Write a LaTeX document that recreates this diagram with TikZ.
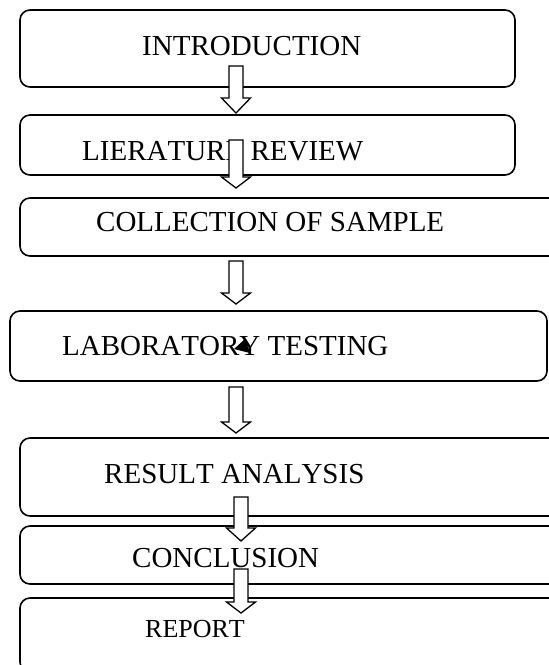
\documentclass[tikz,border=0pt]{standalone}
\usepackage{fontspec}
\setmainfont{Liberation Serif}[Kerning=Off]
\newcommand\blockarr[4]{%
  \draw[barrow] (#1-7,-#2) -- (#1+7,-#2) -- (#1+7,-#3) -- (#1+14.5,-#3)
    -- (#1,-#4) -- (#1-14.5,-#3) -- (#1-7,-#3) -- cycle;}
\begin{document}
\begin{tikzpicture}[x=1pt,y=1pt,
  stage/.style={draw, line width=1.6pt, rounded corners=10pt, inner sep=0pt},
  lbl/.style={anchor=base west, inner sep=0pt, font=\fontsize{29}{29}\selectfont},
  barrow/.style={draw, fill=white, line width=1.3pt, line join=miter}]
\useasboundingbox (0,0) rectangle (549,-665);
\clip (0,0) rectangle (549,-665);
% stages
\node[stage, minimum width=495pt, minimum height=77pt] (b1) at (267.5,-48.5) {};
\node[stage, minimum width=495pt, minimum height=60pt] (b2) at (267.5,-145) {};
\node[stage, minimum width=550pt, minimum height=58pt] (b3) at (295,-227) {};
\node[stage, minimum width=537pt, minimum height=70pt] (b4) at (278.5,-346) {};
\node[stage, minimum width=550pt, minimum height=78pt] (b5) at (295,-477) {};
\node[stage, minimum width=550pt, minimum height=58pt] (b6) at (295,-555) {};
\node[stage, minimum width=550pt, minimum height=74pt] (b7) at (295,-635) {};
% labels
\node[lbl] (t1) at (142,-55) {INTRODUCTION};
\node[lbl] (t2) at (82,-160) {LIERATURE REVIEW};
\node[lbl] (t3) at (96,-231) {COLLECTION OF SAMPLE};
\node[lbl] (t4) at (62,-355) {LABORATORY TESTING};
\node[lbl] (t5) at (104,-483) {RESULT ANALYSIS};
\node[lbl] (t6) at (132,-567) {CONCLUSION};
\node[lbl, font=\fontsize{26}{26}\selectfont] (t7) at (145,-637) {REPORT};
% stray mark
\fill (234,-349) -- (245,-339) -- (250,-353) -- cycle;
% arrows
\blockarr{236}{66}{98}{113}
\blockarr{236}{140}{177}{188}
\blockarr{236}{261}{293}{304}
\blockarr{236}{387}{422}{433}
\blockarr{241}{497}{528}{541}
\blockarr{241}{569}{602}{613}
\end{tikzpicture}
\end{document}
